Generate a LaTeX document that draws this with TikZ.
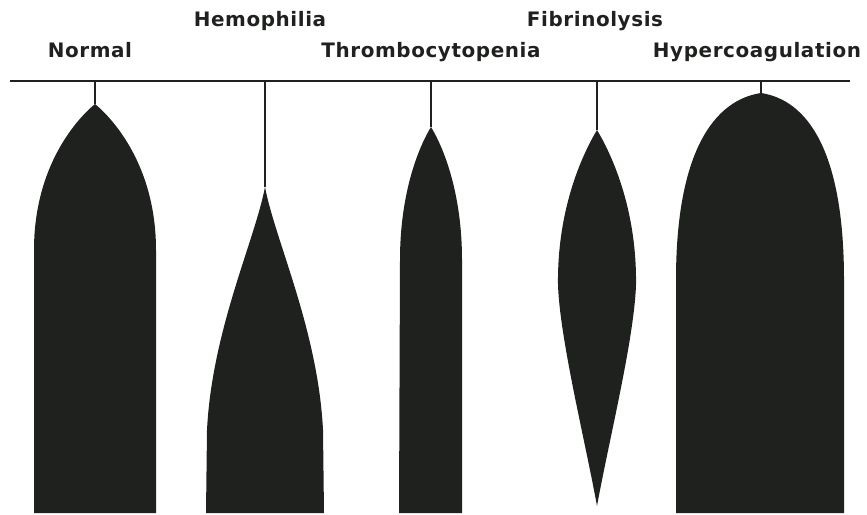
\documentclass[tikz,border=0pt]{standalone}
\usepackage{fontspec}
\usepackage{xcolor}
\usepackage{tikz}
\newfontfamily\tracefont[LetterSpace=3]{DejaVu Sans}
\definecolor{clotink}{RGB}{30,33,30}
\tikzset{
  axisline/.style={line width=1.6pt,clotink},
  stem/.style={line width=1.4pt,clotink},
  trace/.style={fill=clotink,draw=none},
  tracelabel/.style={anchor=base,inner sep=0pt,text=clotink,
    font={\tracefont\bfseries\fontsize{17pt}{20pt}\selectfont}}
}

\begin{document}
\begin{tikzpicture}[x=0.03cm,y=-0.03cm]
  \useasboundingbox (0,0) rectangle (867,515);

  \node[tracelabel] (lnormal) at (90,58) {Normal};
  \node[tracelabel] (lhemo) at (260,27) {Hemophilia};
  \node[tracelabel] (lthrombo) at (431,58) {Thrombocytopenia};
  \node[tracelabel] (lfibrino) at (595,27) {Fibrinolysis};
  \node[tracelabel] (lhyper) at (757,58) {Hypercoagulation};

  \coordinate (axl) at (10,81);
  \coordinate (axr) at (850,81);
  \draw[axisline] (axl) -- (axr);

  \coordinate (t1) at (95,81);   \coordinate (a1) at (95,104);
  \coordinate (t2) at (265,81);  \coordinate (a2) at (265,187);
  \coordinate (t3) at (431,81);  \coordinate (a3) at (431,127);
  \coordinate (t4) at (597,81);  \coordinate (a4) at (597,130);
  \coordinate (t5) at (761,81);  \coordinate (a5) at (761,93);

  \foreach \i in {1,...,5}
    \draw[stem] (t\i) -- (a\i);

  \fill[trace] (34,513) -- (34,250) .. controls (34,165) and (78,118) .. (a1)
    .. controls (112,118) and (156,165) .. (156,250) -- (156,513) -- cycle;
  \fill[trace] (206,513) -- (207,430) .. controls (212,330) and (255,240) .. (a2)
    .. controls (275,240) and (318,330) .. (323,430) -- (324,513) -- cycle;
  \fill[trace] (399,513) -- (400,260) .. controls (400,190) and (420,145) .. (a3)
    .. controls (442,145) and (462,190) .. (462,260) -- (462,513) -- cycle;
  \fill[trace] (597,506) .. controls (585,440) and (560,340) .. (558,285)
    .. controls (557,205) and (585,150) .. (a4)
    .. controls (609,150) and (637,205) .. (636,285)
    .. controls (634,340) and (609,440) .. (597,506) -- cycle;
  \fill[trace] (676,513) -- (676,280) .. controls (676,150) and (715,100) .. (a5)
    .. controls (807,100) and (844,150) .. (844,280) -- (844,513) -- cycle;
\end{tikzpicture}
\end{document}
